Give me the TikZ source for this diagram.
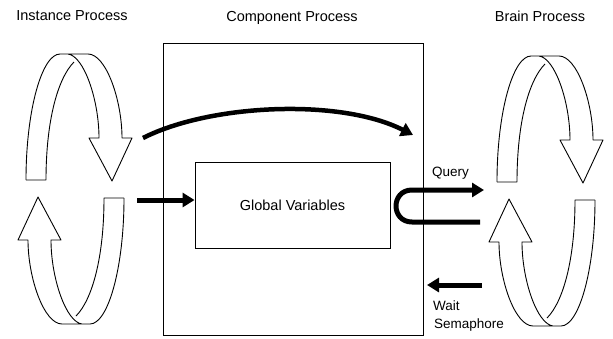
\documentclass[tikz,border=0pt]{standalone}
\usepackage{fontspec}
\setmainfont{Liberation Sans}
\usetikzlibrary{arrows.meta}
\newcommand\ribbonloop{%
  \draw[ribbon] (26,180) .. controls (26,110) and (42,54) .. (60,54) -- (88,54)
    .. controls (106,54) and (122,100) .. (122,138) -- (132,138) -- (112,181)
    -- (89,138) -- (99,138) .. controls (99,100) and (84,56) .. (68,54);
  \draw[ribbon] (26,180) -- (46,180) .. controls (46,120) and (58,78) .. (74,62);
}
\begin{document}
\begin{tikzpicture}[x=1pt,y=-1pt,
  ribbon/.style={line width=0.9pt, line join=round},
  heavyarrow/.style={line width=5pt, -{Triangle[length=12pt,width=14pt]}},
  title/.style={font=\fontsize{14.5}{17}\selectfont, anchor=base, inner sep=0pt},
  lbl/.style={font=\fontsize{13.5}{16}\selectfont, anchor=base west, inner sep=0pt},
  frame/.style={draw, line width=0.9pt, inner sep=0pt}]
\useasboundingbox (0,0) rectangle (613,338);

% titles
\node[title] (tinst) at (72,20.5) {Instance Process};
\node[title] (tcomp) at (292,21) {Component Process};
\node[title] (tbrain) at (540,21.5) {Brain Process};

% boxes
\node[frame, minimum width=260pt, minimum height=292pt] (comp) at (293,189) {};
\node[frame, minimum width=195pt, minimum height=86pt,
      font=\fontsize{14.5}{17}\selectfont] (gv) at (292.5,205) {Global Variables};

% loops
\begin{scope}\ribbonloop\end{scope}
\begin{scope}[rotate around={180:(75,189)}]\ribbonloop\end{scope}
\begin{scope}[shift={(471,2)}]\ribbonloop\end{scope}
\begin{scope}[shift={(471,2)}, rotate around={180:(75,189)}]\ribbonloop\end{scope}

% arrows from instance
\coordinate (cstart) at (143,138);
\coordinate (cend) at (413,135);
\draw[heavyarrow, line width=4.5pt] (cstart) .. controls (210,104) and (340,98) .. (cend);
\coordinate (inA) at (137,200);
\draw[heavyarrow] (inA) -- (inA -| gv.west);

% query
\coordinate (qa) at (480,222);
\coordinate (qb) at (484,190);
\draw[heavyarrow] (qa) -- (412,222) .. controls (390.7,222) and (390.7,190) .. (412,190) -- (qb);
\node[lbl] (query) at (432,176) {Query};

% wait semaphore
\coordinate (wa) at (482,285);
\coordinate (wb) at (427,285);
\draw[heavyarrow] (wa) -- (wb);
\node[lbl] (wait) at (433,310) {Wait};
\node[lbl] (sema) at (434,328) {Semaphore};
\end{tikzpicture}
\end{document}
